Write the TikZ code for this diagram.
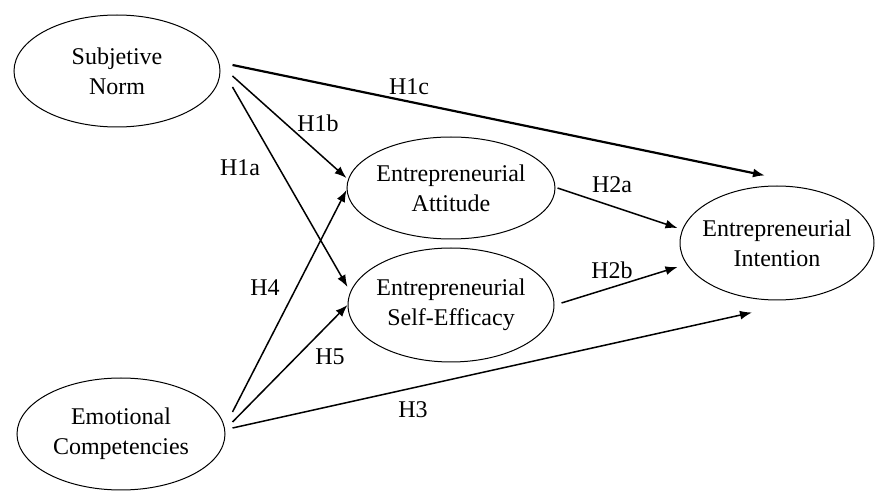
\documentclass[tikz,border=0pt]{standalone}
\usepackage{fontspec}
\setmainfont{Liberation Serif}
\usetikzlibrary{shapes.geometric,arrows.meta}
\begin{document}
\begin{tikzpicture}[x=0.5pt, y=-0.5pt,
    every node/.style={font=\fontsize{12}{15}\selectfont},
    construct_style/.style={ellipse, draw, line width=0.5pt, inner xsep=-12pt, inner ysep=-6pt, align=center},
    path_style/.style={-{Latex[length=6pt, width=4.5pt]}, line width=0.75pt},
    label_style/.style={inner sep=0pt}
]
\useasboundingbox (0,0) rectangle (875,492);
% constructs
\node[construct_style, minimum width=103pt, minimum height=56pt] (sn) at (117, 71) {Subjetive\\Norm};
\node[construct_style, minimum width=104pt, minimum height=56pt] (ec) at (121, 434) {Emotional\\Competencies};
\node[construct_style, minimum width=104pt, minimum height=51pt] (ea) at (451, 188) {Entrepreneurial\\Attitude};
\node[construct_style, minimum width=103pt, minimum height=57pt] (ese) at (451, 305) {Entrepreneurial\\Self-Efficacy};
\node[construct_style, minimum width=97pt, minimum height=57pt] (ei) at (777, 243) {Entrepreneurial\\Intention};
% paths from subjetive norm
\draw[path_style, line width=1.1pt] ([shift={(12,-6)}]sn.east) -- ([shift={(-12,-10)}]ei.north);
\draw[path_style] ([shift={(12,5)}]sn.east) -- ([shift={(0,-10)}]ea.west);
\draw[path_style] ([shift={(12,16)}]sn.east) -- ([shift={(0,-18)}]ese.west);
% paths from emotional competencies
\draw[path_style] ([shift={(7,-22)}]ec.east) -- ([shift={(0,2)}]ea.west);
\draw[path_style] ([shift={(7,-12)}]ec.east) -- (ese.west);
\draw[path_style] ([shift={(7,-6)}]ec.east) -- ([shift={(-25,12)}]ei.south);
% mediators to intention
\draw[path_style] ([shift={(2,0)}]ea.east) -- ([shift={(-2,-15)}]ei.west);
\draw[path_style] ([shift={(7,-2)}]ese.east) -- ([shift={(-2,24)}]ei.west);
% hypothesis labels
\node[label_style] (h1c) at (409, 87) {H1c};
\node[label_style] (h1b) at (318, 123) {H1b};
\node[label_style] (h1a) at (240, 168) {H1a};
\node[label_style] (h4) at (265, 288) {H4};
\node[label_style] (h5) at (330, 357) {H5};
\node[label_style] (h3) at (413, 410) {H3};
\node[label_style] (h2a) at (612, 185) {H2a};
\node[label_style] (h2b) at (612, 270) {H2b};
\end{tikzpicture}
\end{document}
